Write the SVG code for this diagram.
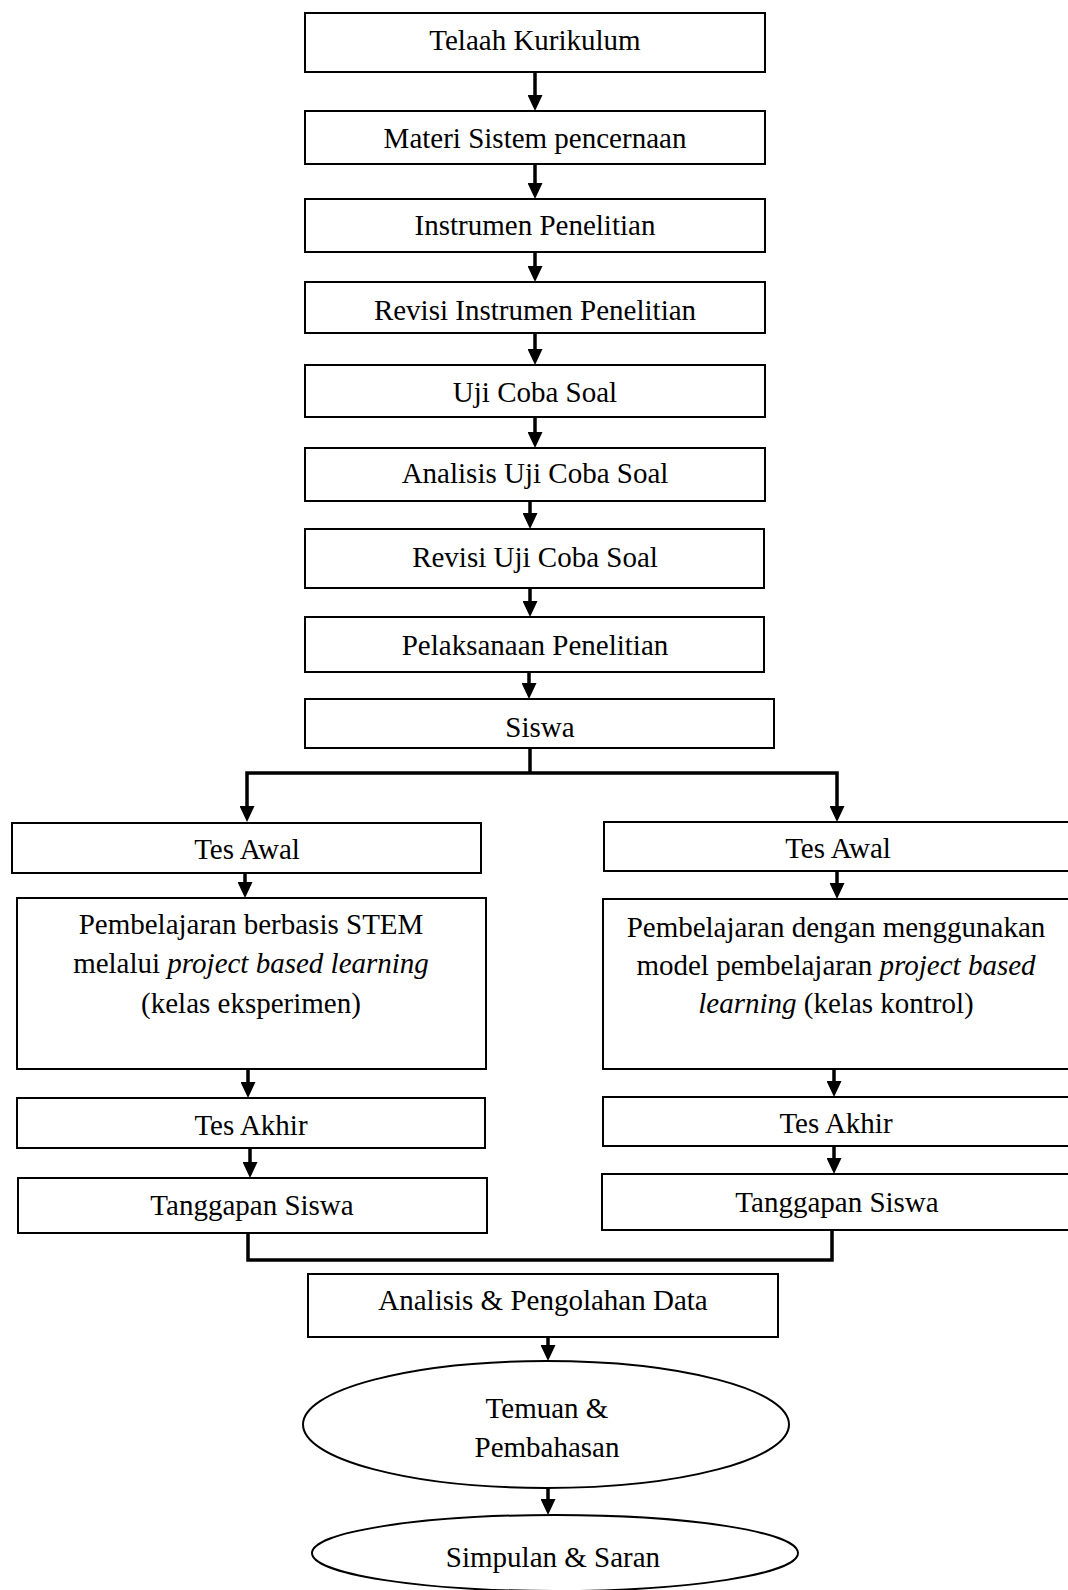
<svg xmlns="http://www.w3.org/2000/svg" width="1068" height="1590" viewBox="0 0 1068 1590">
<style>
.box{fill:#fff;stroke:#000;stroke-width:2}
.t{font-family:"Liberation Serif","Times New Roman",serif;font-size:29px;fill:#000;text-anchor:middle}
.i{font-style:italic}
.c{fill:none;stroke:#000;stroke-width:3.5;stroke-linejoin:miter}
</style>
<defs>
<marker id="ah" markerUnits="userSpaceOnUse" viewBox="0 0 16 15" refX="8" refY="7.5" markerWidth="16" markerHeight="15" orient="auto">
<path d="M0,0 L16,7.5 L0,15 z" fill="#000"/>
</marker>
</defs>
<rect width="1068" height="1590" fill="#fff"/>
<g id="connectors">
<path class="c" d="M535,72 V103" marker-end="url(#ah)"/>
<path class="c" d="M535,164 V191" marker-end="url(#ah)"/>
<path class="c" d="M535,252 V274" marker-end="url(#ah)"/>
<path class="c" d="M535,333 V357" marker-end="url(#ah)"/>
<path class="c" d="M535,417 V440" marker-end="url(#ah)"/>
<path class="c" d="M530,501 V521" marker-end="url(#ah)"/>
<path class="c" d="M530,588 V609" marker-end="url(#ah)"/>
<path class="c" d="M529,672 V691" marker-end="url(#ah)"/>
<path class="c" d="M530,748 V773"/>
<path class="c" d="M530,773 H247 V814" marker-end="url(#ah)"/>
<path class="c" d="M530,773 H837 V814" marker-end="url(#ah)"/>
<path class="c" d="M245,873 V890" marker-end="url(#ah)"/>
<path class="c" d="M248,1069 V1090" marker-end="url(#ah)"/>
<path class="c" d="M250,1148 V1170" marker-end="url(#ah)"/>
<path class="c" d="M837,871 V891" marker-end="url(#ah)"/>
<path class="c" d="M834,1069 V1089" marker-end="url(#ah)"/>
<path class="c" d="M834,1146 V1166" marker-end="url(#ah)"/>
<path class="c" d="M248,1233 V1260 H832 V1230"/>
<path class="c" d="M548,1337 V1353" marker-end="url(#ah)"/>
<path class="c" d="M548,1488 V1507" marker-end="url(#ah)"/>
</g>
<g id="n1"><rect class="box" x="305" y="13" width="460" height="59"/><text class="t" x="535" y="50">Telaah Kurikulum</text></g>
<g id="n2"><rect class="box" x="305" y="111" width="460" height="53"/><text class="t" x="535" y="148">Materi Sistem pencernaan</text></g>
<g id="n3"><rect class="box" x="305" y="199" width="460" height="53"/><text class="t" x="535" y="235">Instrumen Penelitian</text></g>
<g id="n4"><rect class="box" x="305" y="282" width="460" height="51"/><text class="t" x="535" y="320">Revisi Instrumen Penelitian</text></g>
<g id="n5"><rect class="box" x="305" y="365" width="460" height="52"/><text class="t" x="535" y="402">Uji Coba Soal</text></g>
<g id="n6"><rect class="box" x="305" y="448" width="460" height="53"/><text class="t" x="535" y="483">Analisis Uji Coba Soal</text></g>
<g id="n7"><rect class="box" x="305" y="529" width="459" height="59"/><text class="t" x="535" y="567">Revisi Uji Coba Soal</text></g>
<g id="n8"><rect class="box" x="305" y="617" width="459" height="55"/><text class="t" x="535" y="655">Pelaksanaan Penelitian</text></g>
<g id="n9"><rect class="box" x="305" y="699" width="469" height="49"/><text class="t" x="540" y="737">Siswa</text></g>
<g id="n10"><rect class="box" x="12" y="823" width="469" height="50"/><text class="t" x="247" y="859">Tes Awal</text></g>
<g id="n11"><rect class="box" x="17" y="898" width="469" height="171"/>
<text class="t" x="251" y="934">Pembelajaran berbasis STEM</text>
<text class="t" x="251" y="973">melalui <tspan class="i">project based learning</tspan></text>
<text class="t" x="251" y="1013">(kelas eksperimen)</text></g>
<g id="n12"><rect class="box" x="17" y="1098" width="468" height="50"/><text class="t" x="251" y="1135">Tes Akhir</text></g>
<g id="n13"><rect class="box" x="18" y="1178" width="469" height="55"/><text class="t" x="252" y="1215">Tanggapan Siswa</text></g>
<g id="n14"><rect class="box" x="604" y="822" width="468" height="49"/><text class="t" x="838" y="858">Tes Awal</text></g>
<g id="n15"><rect class="box" x="603" y="899" width="468" height="170"/>
<text class="t" x="836" y="937">Pembelajaran dengan menggunakan</text>
<text class="t" x="836" y="975">model pembelajaran <tspan class="i">project based</tspan></text>
<text class="t" x="836" y="1013"><tspan class="i">learning</tspan> (kelas kontrol)</text></g>
<g id="n16"><rect class="box" x="603" y="1097" width="468" height="49"/><text class="t" x="836" y="1133">Tes Akhir</text></g>
<g id="n17"><rect class="box" x="602" y="1174" width="469" height="56"/><text class="t" x="837" y="1212">Tanggapan Siswa</text></g>
<g id="n18"><rect class="box" x="308" y="1274" width="470" height="63"/><text class="t" x="543" y="1310">Analisis &amp; Pengolahan Data</text></g>
<g id="n19"><ellipse class="box" cx="546" cy="1424.5" rx="243" ry="63.5"/>
<text class="t" x="547" y="1418">Temuan &amp;</text>
<text class="t" x="547" y="1457">Pembahasan</text></g>
<g id="n20"><ellipse class="box" cx="555" cy="1553" rx="243" ry="38"/><text class="t" x="553" y="1567">Simpulan &amp; Saran</text></g>
</svg>
